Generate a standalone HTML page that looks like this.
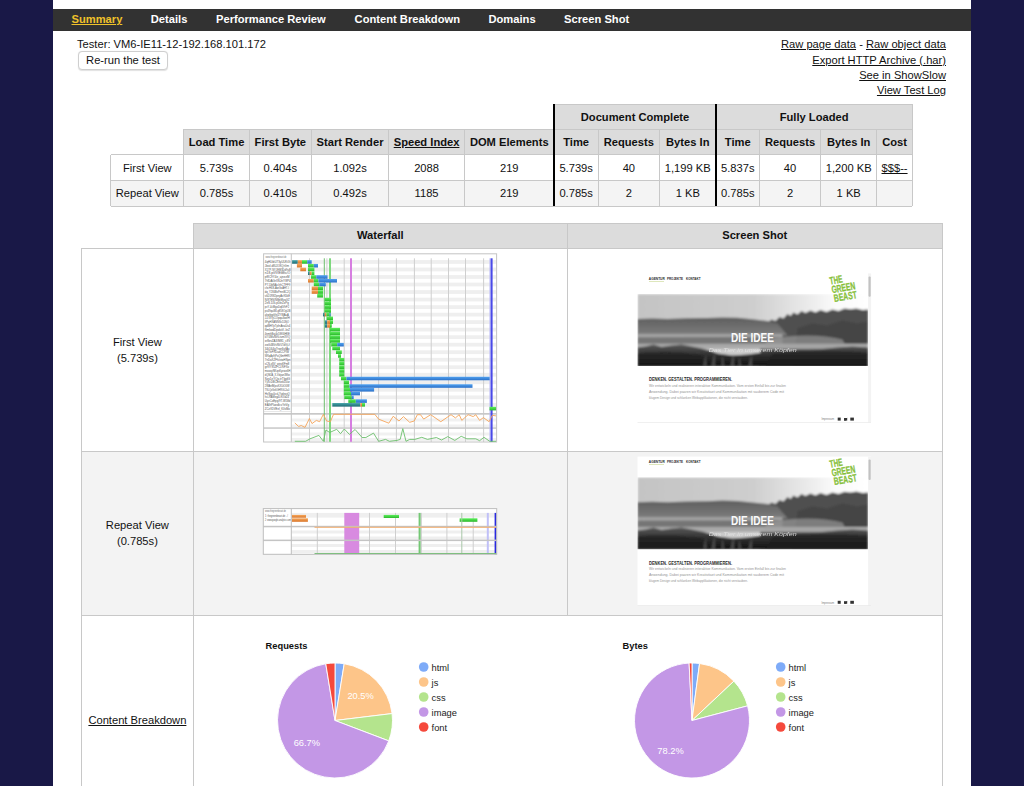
<!DOCTYPE html>
<html><head><meta charset="utf-8"><style>
html,body{margin:0;padding:0;}
body{width:1024px;height:786px;overflow:hidden;background:#191847;position:relative;font-family:"Liberation Sans",sans-serif;}
.t{position:absolute;white-space:nowrap;font-family:"Liberation Sans",sans-serif;}
</style></head><body>

<div style="position:absolute;left:53.00px;top:0.00px;width:918.00px;height:786.00px;background:#ffffff;"></div>
<div style="position:absolute;left:53.00px;top:8.70px;width:918.00px;height:21.90px;background:#323232;"></div>
<div class="t" style="left:71.50px;top:11.33px;width:300px;line-height:16px;font-size:11.16px;text-align:left;color:#f0c22a;font-weight:bold;text-decoration:underline;">Summary</div>
<div class="t" style="left:150.80px;top:11.33px;width:300px;line-height:16px;font-size:11.16px;text-align:left;color:#ffffff;font-weight:bold;">Details</div>
<div class="t" style="left:216.00px;top:11.33px;width:300px;line-height:16px;font-size:11.16px;text-align:left;color:#ffffff;font-weight:bold;">Performance Review</div>
<div class="t" style="left:354.60px;top:11.33px;width:300px;line-height:16px;font-size:11.16px;text-align:left;color:#ffffff;font-weight:bold;">Content Breakdown</div>
<div class="t" style="left:488.50px;top:11.33px;width:300px;line-height:16px;font-size:11.16px;text-align:left;color:#ffffff;font-weight:bold;">Domains</div>
<div class="t" style="left:564.10px;top:11.33px;width:300px;line-height:16px;font-size:11.16px;text-align:left;color:#ffffff;font-weight:bold;">Screen Shot</div>
<div class="t" style="left:77.00px;top:35.88px;width:300px;line-height:16px;font-size:11.16px;text-align:left;color:#111;">Tester: VM6-IE11-12-192.168.101.172</div>
<div style="position:absolute;left:78.4px;top:51.4px;width:89.8px;height:18.2px;box-sizing:border-box;border:1px solid #cfcfcf;border-radius:4px;background:#fff;box-shadow:0 0.5px 1px rgba(0,0,0,0.12);"></div>
<div class="t" style="left:63.00px;top:51.63px;width:120px;line-height:16px;font-size:11.16px;text-align:center;color:#111;">Re-run the test</div>
<div class="t" style="left:646.00px;top:36.03px;width:300px;line-height:16px;font-size:11.16px;text-align:right;color:#111;"><u>Raw page data</u> - <u>Raw object data</u></div>
<div class="t" style="left:646.00px;top:51.83px;width:300px;line-height:16px;font-size:11.16px;text-align:right;color:#111;text-decoration:underline;">Export HTTP Archive (.har)</div>
<div class="t" style="left:646.00px;top:66.63px;width:300px;line-height:16px;font-size:11.16px;text-align:right;color:#111;text-decoration:underline;">See in ShowSlow</div>
<div class="t" style="left:646.00px;top:81.88px;width:300px;line-height:16px;font-size:11.16px;text-align:right;color:#111;text-decoration:underline;">View Test Log</div>
<div style="position:absolute;left:554.10px;top:104.20px;width:358.20px;height:25.20px;background:#dcdcdc;"></div>
<div style="position:absolute;left:183.70px;top:129.40px;width:728.60px;height:25.20px;background:#dcdcdc;"></div>
<div style="position:absolute;left:110.90px;top:180.50px;width:801.40px;height:25.50px;background:#f4f4f4;"></div>
<div style="position:absolute;left:554.10px;top:103.70px;width:358.20px;height:1.00px;background:#c8c8c8;"></div>
<div style="position:absolute;left:183.70px;top:128.90px;width:728.60px;height:1.00px;background:#c8c8c8;"></div>
<div style="position:absolute;left:110.90px;top:154.10px;width:801.40px;height:1.00px;background:#c8c8c8;"></div>
<div style="position:absolute;left:110.90px;top:180.00px;width:801.40px;height:1.00px;background:#c8c8c8;"></div>
<div style="position:absolute;left:110.90px;top:205.50px;width:801.40px;height:1.00px;background:#c8c8c8;"></div>
<div style="position:absolute;left:110.40px;top:154.60px;width:1.00px;height:51.40px;background:#c8c8c8;"></div>
<div style="position:absolute;left:183.20px;top:129.40px;width:1.00px;height:76.60px;background:#c8c8c8;"></div>
<div style="position:absolute;left:248.90px;top:129.40px;width:1.00px;height:76.60px;background:#c8c8c8;"></div>
<div style="position:absolute;left:310.80px;top:129.40px;width:1.00px;height:76.60px;background:#c8c8c8;"></div>
<div style="position:absolute;left:388.25px;top:129.40px;width:1.00px;height:76.60px;background:#c8c8c8;"></div>
<div style="position:absolute;left:463.90px;top:129.40px;width:1.00px;height:76.60px;background:#c8c8c8;"></div>
<div style="position:absolute;left:597.70px;top:129.40px;width:1.00px;height:76.60px;background:#c8c8c8;"></div>
<div style="position:absolute;left:659.00px;top:129.40px;width:1.00px;height:76.60px;background:#c8c8c8;"></div>
<div style="position:absolute;left:759.00px;top:129.40px;width:1.00px;height:76.60px;background:#c8c8c8;"></div>
<div style="position:absolute;left:820.10px;top:129.40px;width:1.00px;height:76.60px;background:#c8c8c8;"></div>
<div style="position:absolute;left:876.30px;top:129.40px;width:1.00px;height:76.60px;background:#c8c8c8;"></div>
<div style="position:absolute;left:911.80px;top:104.20px;width:1.00px;height:101.80px;background:#c8c8c8;"></div>
<div style="position:absolute;left:553.00px;top:104.00px;width:2.20px;height:102.00px;background:#000;"></div>
<div style="position:absolute;left:714.90px;top:104.00px;width:2.20px;height:102.00px;background:#000;"></div>
<div class="t" style="left:555.05px;top:109.18px;width:160px;line-height:16px;font-size:11.16px;text-align:center;color:#111;font-weight:bold;">Document Complete</div>
<div class="t" style="left:734.15px;top:109.18px;width:160px;line-height:16px;font-size:11.16px;text-align:center;color:#111;font-weight:bold;">Fully Loaded</div>
<div class="t" style="left:156.55px;top:133.93px;width:120px;line-height:16px;font-size:11.16px;text-align:center;color:#111;font-weight:bold;">Load Time</div>
<div class="t" style="left:156.55px;top:160.23px;width:120px;line-height:16px;font-size:11.16px;text-align:center;color:#111;">5.739s</div>
<div class="t" style="left:156.55px;top:185.43px;width:120px;line-height:16px;font-size:11.16px;text-align:center;color:#111;">0.785s</div>
<div class="t" style="left:220.35px;top:133.93px;width:120px;line-height:16px;font-size:11.16px;text-align:center;color:#111;font-weight:bold;">First Byte</div>
<div class="t" style="left:220.35px;top:160.23px;width:120px;line-height:16px;font-size:11.16px;text-align:center;color:#111;">0.404s</div>
<div class="t" style="left:220.35px;top:185.43px;width:120px;line-height:16px;font-size:11.16px;text-align:center;color:#111;">0.410s</div>
<div class="t" style="left:290.02px;top:133.93px;width:120px;line-height:16px;font-size:11.16px;text-align:center;color:#111;font-weight:bold;">Start Render</div>
<div class="t" style="left:290.02px;top:160.23px;width:120px;line-height:16px;font-size:11.16px;text-align:center;color:#111;">1.092s</div>
<div class="t" style="left:290.02px;top:185.43px;width:120px;line-height:16px;font-size:11.16px;text-align:center;color:#111;">0.492s</div>
<div class="t" style="left:366.57px;top:133.93px;width:120px;line-height:16px;font-size:11.16px;text-align:center;color:#111;font-weight:bold;"><u>Speed Index</u></div>
<div class="t" style="left:366.57px;top:160.23px;width:120px;line-height:16px;font-size:11.16px;text-align:center;color:#111;">2088</div>
<div class="t" style="left:366.57px;top:185.43px;width:120px;line-height:16px;font-size:11.16px;text-align:center;color:#111;">1185</div>
<div class="t" style="left:449.25px;top:133.93px;width:120px;line-height:16px;font-size:11.16px;text-align:center;color:#111;font-weight:bold;">DOM Elements</div>
<div class="t" style="left:449.25px;top:160.23px;width:120px;line-height:16px;font-size:11.16px;text-align:center;color:#111;">219</div>
<div class="t" style="left:449.25px;top:185.43px;width:120px;line-height:16px;font-size:11.16px;text-align:center;color:#111;">219</div>
<div class="t" style="left:516.15px;top:133.93px;width:120px;line-height:16px;font-size:11.16px;text-align:center;color:#111;font-weight:bold;">Time</div>
<div class="t" style="left:516.15px;top:160.23px;width:120px;line-height:16px;font-size:11.16px;text-align:center;color:#111;">5.739s</div>
<div class="t" style="left:516.15px;top:185.43px;width:120px;line-height:16px;font-size:11.16px;text-align:center;color:#111;">0.785s</div>
<div class="t" style="left:568.85px;top:133.93px;width:120px;line-height:16px;font-size:11.16px;text-align:center;color:#111;font-weight:bold;">Requests</div>
<div class="t" style="left:568.85px;top:160.23px;width:120px;line-height:16px;font-size:11.16px;text-align:center;color:#111;">40</div>
<div class="t" style="left:568.85px;top:185.43px;width:120px;line-height:16px;font-size:11.16px;text-align:center;color:#111;">2</div>
<div class="t" style="left:627.75px;top:133.93px;width:120px;line-height:16px;font-size:11.16px;text-align:center;color:#111;font-weight:bold;">Bytes In</div>
<div class="t" style="left:627.75px;top:160.23px;width:120px;line-height:16px;font-size:11.16px;text-align:center;color:#111;">1,199 KB</div>
<div class="t" style="left:627.75px;top:185.43px;width:120px;line-height:16px;font-size:11.16px;text-align:center;color:#111;">1 KB</div>
<div class="t" style="left:677.75px;top:133.93px;width:120px;line-height:16px;font-size:11.16px;text-align:center;color:#111;font-weight:bold;">Time</div>
<div class="t" style="left:677.75px;top:160.23px;width:120px;line-height:16px;font-size:11.16px;text-align:center;color:#111;">5.837s</div>
<div class="t" style="left:677.75px;top:185.43px;width:120px;line-height:16px;font-size:11.16px;text-align:center;color:#111;">0.785s</div>
<div class="t" style="left:730.05px;top:133.93px;width:120px;line-height:16px;font-size:11.16px;text-align:center;color:#111;font-weight:bold;">Requests</div>
<div class="t" style="left:730.05px;top:160.23px;width:120px;line-height:16px;font-size:11.16px;text-align:center;color:#111;">40</div>
<div class="t" style="left:730.05px;top:185.43px;width:120px;line-height:16px;font-size:11.16px;text-align:center;color:#111;">2</div>
<div class="t" style="left:788.70px;top:133.93px;width:120px;line-height:16px;font-size:11.16px;text-align:center;color:#111;font-weight:bold;">Bytes In</div>
<div class="t" style="left:788.70px;top:160.23px;width:120px;line-height:16px;font-size:11.16px;text-align:center;color:#111;">1,200 KB</div>
<div class="t" style="left:788.70px;top:185.43px;width:120px;line-height:16px;font-size:11.16px;text-align:center;color:#111;">1 KB</div>
<div class="t" style="left:834.55px;top:133.93px;width:120px;line-height:16px;font-size:11.16px;text-align:center;color:#111;font-weight:bold;">Cost</div>
<div class="t" style="left:834.55px;top:160.23px;width:120px;line-height:16px;font-size:11.16px;text-align:center;color:#111;"><u>$$$--</u></div>
<div class="t" style="left:87.30px;top:160.23px;width:120px;line-height:16px;font-size:11.16px;text-align:center;color:#111;">First View</div>
<div class="t" style="left:87.30px;top:185.43px;width:120px;line-height:16px;font-size:11.16px;text-align:center;color:#111;">Repeat View</div>
<div style="position:absolute;left:193.40px;top:223.20px;width:748.80px;height:25.10px;background:#dcdcdc;"></div>
<div style="position:absolute;left:81.40px;top:451.50px;width:860.80px;height:163.90px;background:#f3f3f3;"></div>
<div style="position:absolute;left:193.40px;top:222.70px;width:748.80px;height:1.00px;background:#c8c8c8;"></div>
<div style="position:absolute;left:81.40px;top:247.80px;width:860.80px;height:1.00px;background:#c8c8c8;"></div>
<div style="position:absolute;left:81.40px;top:451.00px;width:860.80px;height:1.00px;background:#c8c8c8;"></div>
<div style="position:absolute;left:81.40px;top:614.90px;width:860.80px;height:1.00px;background:#c8c8c8;"></div>
<div style="position:absolute;left:80.90px;top:248.30px;width:1.00px;height:537.70px;background:#c8c8c8;"></div>
<div style="position:absolute;left:192.90px;top:223.20px;width:1.00px;height:562.80px;background:#c8c8c8;"></div>
<div style="position:absolute;left:566.80px;top:223.20px;width:1.00px;height:392.20px;background:#c8c8c8;"></div>
<div style="position:absolute;left:941.70px;top:223.20px;width:1.00px;height:562.80px;background:#c8c8c8;"></div>
<div class="t" style="left:300.35px;top:227.23px;width:160px;line-height:16px;font-size:11.16px;text-align:center;color:#111;font-weight:bold;">Waterfall</div>
<div class="t" style="left:674.75px;top:227.23px;width:160px;line-height:16px;font-size:11.16px;text-align:center;color:#111;font-weight:bold;">Screen Shot</div>
<div class="t" style="left:82.40px;top:333.73px;width:110px;line-height:16px;font-size:11.16px;text-align:center;color:#111;">First View</div>
<div class="t" style="left:82.40px;top:349.83px;width:110px;line-height:16px;font-size:11.16px;text-align:center;color:#111;">(5.739s)</div>
<div class="t" style="left:82.40px;top:517.33px;width:110px;line-height:16px;font-size:11.16px;text-align:center;color:#111;">Repeat View</div>
<div class="t" style="left:82.40px;top:533.33px;width:110px;line-height:16px;font-size:11.16px;text-align:center;color:#111;">(0.785s)</div>
<div class="t" style="left:82.40px;top:711.53px;width:110px;line-height:16px;font-size:11.16px;text-align:center;color:#111;text-decoration:underline;">Content Breakdown</div>
<svg style="position:absolute;left:0;top:0" width="1024" height="786" viewBox="0 0 1024 786"><rect x="263.6" y="253.8" width="233.0" height="188.2" fill="#fff"/><rect x="291.3" y="260.07" width="205.30" height="3.76" fill="#efefef"/><rect x="291.3" y="267.59" width="205.30" height="3.76" fill="#efefef"/><rect x="291.3" y="275.11" width="205.30" height="3.76" fill="#efefef"/><rect x="291.3" y="282.63" width="205.30" height="3.76" fill="#efefef"/><rect x="291.3" y="290.15" width="205.30" height="3.76" fill="#efefef"/><rect x="291.3" y="297.67" width="205.30" height="3.76" fill="#efefef"/><rect x="291.3" y="305.19" width="205.30" height="3.76" fill="#efefef"/><rect x="291.3" y="312.71" width="205.30" height="3.76" fill="#efefef"/><rect x="291.3" y="320.23" width="205.30" height="3.76" fill="#efefef"/><rect x="291.3" y="327.75" width="205.30" height="3.76" fill="#efefef"/><rect x="291.3" y="335.27" width="205.30" height="3.76" fill="#efefef"/><rect x="291.3" y="342.79" width="205.30" height="3.76" fill="#efefef"/><rect x="291.3" y="350.31" width="205.30" height="3.76" fill="#efefef"/><rect x="291.3" y="357.83" width="205.30" height="3.76" fill="#efefef"/><rect x="291.3" y="365.35" width="205.30" height="3.76" fill="#efefef"/><rect x="291.3" y="372.87" width="205.30" height="3.76" fill="#efefef"/><rect x="291.3" y="380.39" width="205.30" height="3.76" fill="#efefef"/><rect x="291.3" y="387.91" width="205.30" height="3.76" fill="#efefef"/><rect x="291.3" y="395.43" width="205.30" height="3.76" fill="#efefef"/><rect x="291.3" y="402.95" width="205.30" height="3.76" fill="#efefef"/><rect x="291.3" y="418.5" width="205.30" height="3.0" fill="#f1f1f1"/><rect x="291.3" y="424.5" width="205.30" height="2.5" fill="#f1f1f1"/><rect x="291.3" y="432.5" width="205.30" height="3.0" fill="#f1f1f1"/><rect x="291.3" y="438.0" width="205.30" height="3.0" fill="#f1f1f1"/><text x="265.5" y="258.3" font-family="Liberation Sans" font-size="3.4" fill="#707070" textLength="21" lengthAdjust="spacingAndGlyphs">www.thegreenbeast.de</text><g font-family="Liberation Sans" font-size="3.6" fill="#505050"><text x="264.8" y="263.07" textLength="25.7" lengthAdjust="spacingAndGlyphs">4qHUibU73yUUKt3t</text><text x="264.8" y="266.83" textLength="24.1" lengthAdjust="spacingAndGlyphs">Jbiuf-d8UJOKQrGm</text><text x="264.8" y="270.59" textLength="25.9" lengthAdjust="spacingAndGlyphs">X17P-NYJEM3Dd9uB</text><text x="264.8" y="274.35" textLength="25.5" lengthAdjust="spacingAndGlyphs">n18.piVVlEiMtc/O</text><text x="264.8" y="278.11" textLength="24.6" lengthAdjust="spacingAndGlyphs">pffIC9Y4e_ajnezM</text><text x="264.8" y="281.87" textLength="25.9" lengthAdjust="spacingAndGlyphs">7tfDAGrIISJnY8P4</text><text x="264.8" y="285.63" textLength="25.5" lengthAdjust="spacingAndGlyphs">P7-DbNAcIrhCTFF9</text><text x="264.8" y="289.39" textLength="24.2" lengthAdjust="spacingAndGlyphs">chcH6S-AwGxAH7-I</text><text x="264.8" y="293.15" textLength="25.6" lengthAdjust="spacingAndGlyphs">dq_Y284BxPmnBC2Q</text><text x="264.8" y="296.91" textLength="25.2" lengthAdjust="spacingAndGlyphs">vkD1R82peyAx9DkE</text><text x="264.8" y="300.67" textLength="24.9" lengthAdjust="spacingAndGlyphs">N/8TEN/NMeMtzaVZ</text><text x="264.8" y="304.43" textLength="24.0" lengthAdjust="spacingAndGlyphs">2eS.D3i.p5feZzPg</text><text x="264.8" y="308.19" textLength="24.4" lengthAdjust="spacingAndGlyphs">pvY-4cMgoDq6VhF2</text><text x="264.8" y="311.95" textLength="25.6" lengthAdjust="spacingAndGlyphs">pv49qaWLg858OgUB</text><text x="264.8" y="315.71" textLength="24.1" lengthAdjust="spacingAndGlyphs">ahqfpgiVelZYWAuA</text><text x="264.8" y="319.47" textLength="24.9" lengthAdjust="spacingAndGlyphs">JJ-G7yCOpqaIkwfH</text><text x="264.8" y="323.23" textLength="24.4" lengthAdjust="spacingAndGlyphs">IfPgHXANNSc518jO</text><text x="264.8" y="326.99" textLength="25.5" lengthAdjust="spacingAndGlyphs">qdBH7pTpInAnaUs4</text><text x="264.8" y="330.75" textLength="25.1" lengthAdjust="spacingAndGlyphs">flmIwdDpdoV.-leZ</text><text x="264.8" y="334.51" textLength="25.1" lengthAdjust="spacingAndGlyphs">4nmhBxj4x5SK6HKE</text><text x="264.8" y="338.27" textLength="25.2" lengthAdjust="spacingAndGlyphs">kIY4MuNVtLtumXVQ</text><text x="264.8" y="342.03" textLength="25.6" lengthAdjust="spacingAndGlyphs">xr8zsZA3/M81_c8V</text><text x="264.8" y="345.79" textLength="24.9" lengthAdjust="spacingAndGlyphs">zwG4BVsNV0TdVjLf</text><text x="264.8" y="349.55" textLength="24.8" lengthAdjust="spacingAndGlyphs">34i164y7rxe6vfAx</text><text x="264.8" y="353.31" textLength="24.2" lengthAdjust="spacingAndGlyphs">kpl7/eFRDadCCPIW</text><text x="264.8" y="357.07" textLength="25.3" lengthAdjust="spacingAndGlyphs">WKqAp9jPoQ6mHHR/</text><text x="264.8" y="360.83" textLength="25.9" lengthAdjust="spacingAndGlyphs">7nDoXZFh/xtwHSpn</text><text x="264.8" y="364.59" textLength="24.5" lengthAdjust="spacingAndGlyphs">sCN-xSV_winxKFm8</text><text x="264.8" y="368.35" textLength="24.3" lengthAdjust="spacingAndGlyphs">grfVY85ZFCLRiFXo</text><text x="264.8" y="372.11" textLength="25.6" lengthAdjust="spacingAndGlyphs">mooxyNKqsKyvwz6H</text><text x="264.8" y="375.87" textLength="25.0" lengthAdjust="spacingAndGlyphs">dQMJA_X-Vdyan3Ww</text><text x="264.8" y="379.63" textLength="25.2" lengthAdjust="spacingAndGlyphs">Szy1eYQo.trTlgdG</text><text x="264.8" y="383.39" textLength="24.9" lengthAdjust="spacingAndGlyphs">YjXcDBCErkekD0iz</text><text x="264.8" y="387.15" textLength="24.6" lengthAdjust="spacingAndGlyphs">2WAnfMjzuKXUiO0W</text><text x="264.8" y="390.91" textLength="24.5" lengthAdjust="spacingAndGlyphs">TSLQxSe6GHRGL2a0</text><text x="264.8" y="394.67" textLength="25.0" lengthAdjust="spacingAndGlyphs">HsSyu0cvLYvdrovQ</text><text x="264.8" y="398.43" textLength="24.2" lengthAdjust="spacingAndGlyphs">hcLRAMeg4LfKXd24</text><text x="264.8" y="402.19" textLength="25.6" lengthAdjust="spacingAndGlyphs">UyvCoEpg/9T-W58d</text><text x="264.8" y="405.95" textLength="24.4" lengthAdjust="spacingAndGlyphs">EAlhPlandlcvYeVg</text><text x="264.8" y="409.71" textLength="25.0" lengthAdjust="spacingAndGlyphs">ZCzVDVEeI_Kl/xMo</text></g><rect x="309.0" y="258.3" width="1" height="183.7" fill="#cfcfcf"/><rect x="326.4" y="258.3" width="1" height="183.7" fill="#cfcfcf"/><rect x="343.7" y="258.3" width="1" height="183.7" fill="#cfcfcf"/><rect x="361.0" y="258.3" width="1" height="183.7" fill="#cfcfcf"/><rect x="378.1" y="258.3" width="1" height="183.7" fill="#cfcfcf"/><rect x="395.9" y="258.3" width="1" height="183.7" fill="#cfcfcf"/><rect x="413.9" y="258.3" width="1" height="183.7" fill="#cfcfcf"/><rect x="430.7" y="258.3" width="1" height="183.7" fill="#cfcfcf"/><rect x="448.0" y="258.3" width="1" height="183.7" fill="#cfcfcf"/><rect x="465.0" y="258.3" width="1" height="183.7" fill="#cfcfcf"/><rect x="483.1" y="258.3" width="1" height="183.7" fill="#cfcfcf"/><rect x="263.6" y="413.0" width="233.0" height="1.7" fill="#c8c8c8"/><rect x="263.6" y="427.3" width="233.0" height="1.5" fill="#c8c8c8"/><rect x="263.6" y="411.2" width="27.7" height="0.6" fill="#d8d8d8"/><rect x="263.6" y="253.8" width="233.0" height="188.2" fill="none" stroke="#c4c4c4" stroke-width="1"/><rect x="290.8" y="253.8" width="1" height="188.2" fill="#c4c4c4"/><defs><linearGradient id="gT" x1="0" y1="0" x2="0" y2="1"><stop offset="0" stop-color="#45a3a8"/><stop offset="1" stop-color="#1f6d75"/></linearGradient><linearGradient id="gO" x1="0" y1="0" x2="0" y2="1"><stop offset="0" stop-color="#f7a85c"/><stop offset="1" stop-color="#d9762a"/></linearGradient><linearGradient id="gG" x1="0" y1="0" x2="0" y2="1"><stop offset="0" stop-color="#5cf05c"/><stop offset="1" stop-color="#2cb82c"/></linearGradient><linearGradient id="gB" x1="0" y1="0" x2="0" y2="1"><stop offset="0" stop-color="#52a2f0"/><stop offset="1" stop-color="#2a70c8"/></linearGradient></defs><rect x="323.8" y="258.3" width="1" height="183.5" fill="#6fbf6f"/><rect x="329.0" y="258.3" width="2" height="183.5" fill="#7ed87e"/><rect x="350.0" y="258.3" width="2" height="183.5" fill="#d67ee0"/><rect x="489.5" y="258.3" width="1" height="183.5" fill="#b8b8f8"/><rect x="490.6" y="258.3" width="2" height="183.5" fill="#4a4ae8"/><rect x="292.1" y="260.17" width="5.70" height="3.56" fill="url(#gT)"/><rect x="297.8" y="260.17" width="4.20" height="3.56" fill="url(#gO)"/><rect x="302" y="260.17" width="5.20" height="3.56" fill="url(#gG)"/><rect x="307.2" y="260.17" width="4.50" height="3.56" fill="url(#gB)"/><rect x="296.9" y="263.93" width="5.10" height="3.56" fill="url(#gO)"/><rect x="308" y="263.93" width="5.80" height="3.56" fill="url(#gG)"/><rect x="313.8" y="263.93" width="4.20" height="3.56" fill="url(#gB)"/><rect x="300.3" y="267.69" width="5.70" height="3.56" fill="url(#gO)"/><rect x="308" y="267.69" width="6.40" height="3.56" fill="url(#gG)"/><rect x="308" y="271.45" width="1.70" height="3.56" fill="url(#gT)"/><rect x="309.7" y="271.45" width="2.00" height="3.56" fill="url(#gO)"/><rect x="311.7" y="271.45" width="2.70" height="3.56" fill="url(#gG)"/><rect x="311" y="275.21" width="5.30" height="3.56" fill="url(#gG)"/><rect x="316.3" y="275.21" width="11.20" height="3.56" fill="url(#gB)"/><rect x="308" y="278.97" width="5.80" height="3.56" fill="url(#gO)"/><rect x="313.8" y="278.97" width="4.50" height="3.56" fill="url(#gG)"/><rect x="318.3" y="278.97" width="18.70" height="3.56" fill="url(#gB)"/><rect x="313.8" y="282.73" width="5.40" height="3.56" fill="url(#gG)"/><rect x="319.2" y="282.73" width="6.60" height="3.56" fill="url(#gB)"/><rect x="311.7" y="286.49" width="6.30" height="3.56" fill="url(#gO)"/><rect x="318" y="286.49" width="5.00" height="3.56" fill="url(#gG)"/><rect x="311.7" y="290.25" width="6.30" height="3.56" fill="url(#gO)"/><rect x="318" y="290.25" width="5.00" height="3.56" fill="url(#gG)"/><rect x="317.2" y="294.01" width="5.80" height="3.56" fill="url(#gG)"/><rect x="324.7" y="297.77" width="6.30" height="3.56" fill="url(#gG)"/><rect x="324.7" y="301.53" width="6.30" height="3.56" fill="url(#gG)"/><rect x="324.7" y="305.29" width="6.30" height="3.56" fill="url(#gG)"/><rect x="324.7" y="309.05" width="6.30" height="3.56" fill="url(#gG)"/><rect x="323" y="312.81" width="1.70" height="3.56" fill="url(#gT)"/><rect x="324.7" y="312.81" width="1.70" height="3.56" fill="url(#gO)"/><rect x="326.4" y="312.81" width="3.10" height="3.56" fill="url(#gG)"/><rect x="329.5" y="312.81" width="1.10" height="3.56" fill="url(#gB)"/><rect x="326.6" y="316.57" width="6.40" height="3.56" fill="url(#gG)"/><rect x="324.9" y="320.33" width="2.30" height="3.56" fill="url(#gT)"/><rect x="327.2" y="320.33" width="2.80" height="3.56" fill="url(#gO)"/><rect x="330" y="320.33" width="3.00" height="3.56" fill="url(#gG)"/><rect x="324.9" y="324.09" width="2.30" height="3.56" fill="url(#gT)"/><rect x="327.2" y="324.09" width="2.80" height="3.56" fill="url(#gO)"/><rect x="330" y="324.09" width="1.80" height="3.56" fill="url(#gG)"/><rect x="330" y="327.85" width="10.00" height="3.56" fill="url(#gG)"/><rect x="330" y="331.61" width="10.00" height="3.56" fill="url(#gG)"/><rect x="330" y="335.37" width="10.00" height="3.56" fill="url(#gG)"/><rect x="330" y="339.13" width="10.00" height="3.56" fill="url(#gG)"/><rect x="331.2" y="342.89" width="6.00" height="3.56" fill="url(#gG)"/><rect x="337.2" y="342.89" width="6.60" height="3.56" fill="url(#gB)"/><rect x="332.3" y="346.65" width="7.70" height="3.56" fill="url(#gG)"/><rect x="336" y="350.41" width="5.80" height="3.56" fill="url(#gG)"/><rect x="338" y="354.17" width="3.00" height="3.56" fill="url(#gG)"/><rect x="339.2" y="357.93" width="5.10" height="3.56" fill="url(#gG)"/><rect x="339.2" y="361.69" width="5.10" height="3.56" fill="url(#gG)"/><rect x="339.2" y="365.45" width="5.10" height="3.56" fill="url(#gG)"/><rect x="339.2" y="369.21" width="5.10" height="3.56" fill="url(#gG)"/><rect x="339.2" y="372.97" width="5.10" height="3.56" fill="url(#gG)"/><rect x="341" y="376.73" width="5.40" height="3.56" fill="url(#gG)"/><rect x="346.4" y="376.73" width="143.30" height="3.56" fill="url(#gB)"/><rect x="343.8" y="380.49" width="5.20" height="3.56" fill="url(#gG)"/><rect x="343.8" y="384.25" width="5.70" height="3.56" fill="url(#gG)"/><rect x="349.5" y="384.25" width="123.00" height="3.56" fill="url(#gB)"/><rect x="343.8" y="388.01" width="6.20" height="3.56" fill="url(#gG)"/><rect x="350" y="388.01" width="24.10" height="3.56" fill="url(#gB)"/><rect x="343.8" y="391.77" width="7.20" height="3.56" fill="url(#gG)"/><rect x="351" y="391.77" width="9.00" height="3.56" fill="url(#gB)"/><rect x="344.3" y="395.53" width="7.50" height="3.56" fill="url(#gG)"/><rect x="351.8" y="395.53" width="1.90" height="3.56" fill="url(#gB)"/><rect x="348.3" y="399.29" width="7.50" height="3.56" fill="url(#gG)"/><rect x="355.8" y="399.29" width="11.10" height="3.56" fill="url(#gB)"/><rect x="332.3" y="403.05" width="28.10" height="3.56" fill="url(#gT)"/><rect x="360.4" y="403.05" width="1.60" height="3.56" fill="url(#gO)"/><rect x="362" y="403.05" width="3.00" height="3.56" fill="url(#gG)"/><rect x="489.5" y="406.81" width="6.50" height="3.56" fill="url(#gG)"/><polyline fill="none" stroke="#f5a55a" stroke-width="0.9" points="294.8,422.9 298.6,426.5 301.2,425.5 305,427.4 309.4,418.5 312,423.6 316.4,420.4 319.6,421.7 323.4,414.3 326.6,421 330.4,421.7 333.5,414.3 374.8,414.3 378.6,419.1 388.8,423.2 393.2,416.3 399,421 403.4,416.6 409.7,422.3 414.2,421 417.4,414.7 420.5,414.7 423.7,419.1 430.7,414.7 440.8,421.7 451,414.7 455.4,417.9 459.2,414.7 461.8,420.4 468.1,414.7 473.2,416.6 475.8,414.7 479.6,420.4 483.4,417.6 489.1,421.7 492.3,415.3 496,415.9"/><polyline fill="none" stroke="#6cc06c" stroke-width="0.9" points="294.8,441.3 305.6,441.3 310,438.8 318.9,435.4 323.4,441.3 325.9,430 329.7,432.5 336.7,429.3 340.5,433.7 344.3,429 349.4,434.4 355.1,429.5 362.1,437.5 365.9,437.5 373.5,433.1 378.6,441.3 385.6,439.4 389.4,441.3 397,440.4 400.2,439.4 402.8,428.6 406,441.3 409.7,439.4 414.8,439.4 421.8,437.3 427.5,439.4 436.4,437.5 441.5,440 447.8,436.6 454.8,440.4 461.2,436.3 466.9,438.8 475.8,438.8 479.6,440.7 484,437.3 489.7,441.3 496,441.3"/><rect x="263.3" y="508.6" width="233.4" height="45.7" fill="#fff"/><rect x="291.3" y="512.9" width="205.4" height="4.7" fill="#efefef"/><rect x="291.3" y="530.5" width="205.4" height="3.0" fill="#efefef"/><rect x="291.3" y="536.5" width="205.4" height="3.0" fill="#efefef"/><rect x="291.3" y="544" width="205.4" height="3.0" fill="#efefef"/><rect x="291.3" y="550" width="205.4" height="3.0" fill="#efefef"/><g font-family="Liberation Sans" font-size="3.6" fill="#505050"><text x="265" y="512.2" fill="#707070" textLength="21" lengthAdjust="spacingAndGlyphs">www.thegreenbeast.de</text><text x="265" y="517.3" textLength="23" lengthAdjust="spacingAndGlyphs">1: thegreenbeast.de - /</text><text x="265" y="520.9" textLength="26" lengthAdjust="spacingAndGlyphs">2: www.google-analytics.com</text></g><rect x="420.7" y="512.9" width="1" height="41.4" fill="#d8d8d8"/><rect x="316.8" y="512.9" width="1" height="41.4" fill="#cfcfcf"/><rect x="369.0" y="512.9" width="1" height="41.4" fill="#cfcfcf"/><rect x="395.0" y="512.9" width="1" height="41.4" fill="#cfcfcf"/><rect x="420.7" y="512.9" width="1" height="41.4" fill="#cfcfcf"/><rect x="446.4" y="512.9" width="1" height="41.4" fill="#cfcfcf"/><rect x="472.7" y="512.9" width="1" height="41.4" fill="#cfcfcf"/><rect x="344.3" y="512.9" width="14.9" height="40.8" fill="#d88ae0"/><rect x="292" y="514.9" width="14" height="2.8" fill="url(#gO)"/><rect x="292" y="518.3" width="15.9" height="3.5" fill="url(#gO)"/><rect x="383.7" y="514.9" width="15.3" height="3.1" fill="url(#gG)"/><rect x="459.6" y="518.3" width="17.8" height="3.5" fill="url(#gG)"/><rect x="418.6" y="512.9" width="2" height="41.4" fill="#74c874"/><rect x="461.3" y="512.9" width="1" height="41.4" fill="#a8c8a8"/><rect x="486.8" y="512.9" width="2" height="41.4" fill="#c0c0f8"/><rect x="494.6" y="512.9" width="1.8" height="41.4" fill="#2a2ae0"/><rect x="263.3" y="525.8" width="233.4" height="1.5" fill="#c4c4c4"/><rect x="263.3" y="539.6" width="233.4" height="1.5" fill="#c4c4c4"/><rect x="314.5" y="526.8" width="182.2" height="1.0" fill="#f5b070"/><rect x="314.5" y="553.0" width="182.2" height="1.0" fill="#70c070"/><rect x="263.3" y="508.6" width="233.4" height="45.7" fill="none" stroke="#bdbdbd" stroke-width="1"/><rect x="290.8" y="508.6" width="1" height="45.7" fill="#bdbdbd"/><defs><linearGradient id="sky" x1="0" y1="0" x2="1" y2="0"><stop offset="0" stop-color="#c4c4c4"/><stop offset="0.5" stop-color="#cecece"/><stop offset="0.75" stop-color="#ececec"/><stop offset="0.85" stop-color="#fafafa"/><stop offset="1" stop-color="#ffffff"/></linearGradient><linearGradient id="grass" x1="0" y1="0" x2="0" y2="1"><stop offset="0" stop-color="#5a5a5a"/><stop offset="0.5" stop-color="#2e2e2e"/><stop offset="1" stop-color="#111111"/></linearGradient><linearGradient id="tree" x1="0" y1="0" x2="0" y2="1"><stop offset="0" stop-color="#5e5e5e"/><stop offset="1" stop-color="#7e7e7e"/></linearGradient><linearGradient id="mist" x1="0" y1="0" x2="1" y2="0"><stop offset="0" stop-color="#9a9a9a" stop-opacity="0.0"/><stop offset="0.45" stop-color="#b8b8b8" stop-opacity="0.9"/><stop offset="1" stop-color="#a0a0a0" stop-opacity="0.2"/></linearGradient><filter id="bl" x="-5%" y="-5%" width="110%" height="110%"><feGaussianBlur stdDeviation="1.1"/></filter><filter id="bl2"><feGaussianBlur stdDeviation="0.35"/></filter><clipPath id="hc"><rect x="0" y="20.7" width="230.5" height="72"/></clipPath></defs><g transform="translate(637.5,273.4)"><rect x="0" y="0" width="233.5" height="149" fill="#fff"/><g font-family="Liberation Sans" font-weight="bold" font-size="4.2" fill="#2a2a2a"><text x="11.3" y="6.8" textLength="16" lengthAdjust="spacingAndGlyphs">AGENTUR</text><text x="29.5" y="6.8" textLength="16" lengthAdjust="spacingAndGlyphs">PROJEKTE</text><text x="48.5" y="6.8" textLength="14.5" lengthAdjust="spacingAndGlyphs">KONTAKT</text></g><rect x="11.5" y="7.6" width="15" height="0.6" fill="#c8d890"/><g clip-path="url(#hc)" filter="url(#bl)"><rect x="0" y="20.7" width="230.5" height="72" fill="url(#sky)"/><path d="M122,93 L124,50 L130,49 L134,46 L138,47.5 L142,43.5 L146,45 L150,40.5 L153,42.5 L156,39 L160,41 L164,37.5 L168,39.5 L173,37 L178,39 L183,36.5 L189,38.5 L195,36 L201,37.5 L207,35.2 L213,35.8 L219,35 L225,36.5 L230.5,36 L230.5,93 Z" fill="#505050"/><path d="M155,93 L160,55 L175,50 L190,52 L205,47 L220,50 L230.5,48 L230.5,93 Z" fill="#3e3e3e" opacity="0.6"/><path d="M0,45.6 L15,45.2 L30,45.6 L50,44.8 L70,44.6 L85,44.0 L100,44.4 L115,45.8 L130,47.5 L140,50 L150,62 L0,62 Z" fill="url(#tree)"/><rect x="0" y="60.5" width="145" height="3.5" fill="#a2a2a2"/><path d="M0,63.8 L145,63.5 L145,70.5 L0,70.8 Z" fill="#747474"/><rect x="0" y="70.3" width="230.5" height="5" fill="#a9a9a9"/><path d="M130,66 Q172,58 205,66 L210,76 L125,76 Z" fill="#a4a4a4" opacity="0.6"/><path d="M0,93 L0,74 L8,73 L16,71 L24,73.5 L34,72 L44,71 L54,73 L64,75 L72,77 L80,80 L95,82 L110,81 L125,79 L140,76 L160,77 L180,76 L200,74 L215,73 L230.5,74 L230.5,93 Z" fill="url(#grass)"/><path d="M0,93 L0,80 Q30,76 66,82 L72,93 Z" fill="#1c1c1c" opacity="0.55"/><path d="M128,93 L135,80 Q180,76 230.5,79 L230.5,93 Z" fill="#1c1c1c" opacity="0.6"/><path d="M66,92 L68,81 L69,92 Z M74,92 L77,79 L77.5,92 Z M84,92 L85,82 L86.5,92 Z M93,92 L96,80 L96.5,92 Z M101,92 L102,83 L103.5,92 Z M111,92 L114,81 L114.5,92 Z" fill="#8a8a8a" opacity="0.45"/></g><text x="93.5" y="68.2" font-family="Liberation Sans" font-weight="bold" font-size="12.8" textLength="43" lengthAdjust="spacingAndGlyphs" fill="#fafafa">DIE IDEE</text><text x="71.2" y="79" font-family="Liberation Sans" font-style="italic" font-size="6.0" textLength="88" lengthAdjust="spacingAndGlyphs" fill="#e4e4e4" opacity="0.85">Das Tier in unserem K&#246;pfen</text><g transform="translate(192.8,11.2) rotate(-10)" fill="#86c03a" font-family="Liberation Sans" font-weight="bold" stroke="#86c03a" stroke-width="0.3"><text x="0" y="0" font-size="10.5" textLength="13" lengthAdjust="spacingAndGlyphs">THE</text><text x="0.3" y="8.9" font-size="10.5" textLength="24" lengthAdjust="spacingAndGlyphs">GREEN</text><text x="1.2" y="17.8" font-size="10.5" textLength="23" lengthAdjust="spacingAndGlyphs">BEAST</text></g><rect x="230.6" y="0" width="3" height="149" fill="#f3f3f3"/><rect x="231" y="3" width="2.2" height="20.3" rx="1" fill="#c2c2c2"/><text x="11.5" y="108" font-family="Liberation Sans" font-weight="bold" font-size="4.8" textLength="83" lengthAdjust="spacingAndGlyphs" fill="#2a2a2a">DENKEN. GESTALTEN. PROGRAMMIEREN.</text><g style="font-family:'Liberation Sans',sans-serif" font-size="3.8" fill="#939393"><text x="11.5" y="113.8" textLength="137" lengthAdjust="spacingAndGlyphs">Wir entwickeln und realisieren interaktive Kommunikation. Vom ersten Einfall bis zur finalen</text><text x="11.5" y="119.5" textLength="135" lengthAdjust="spacingAndGlyphs">Anwendung. Dabei paaren wir Kreativitaet und Kommunikation mit sauberem Code mit</text><text x="11.5" y="125.5" textLength="99" lengthAdjust="spacingAndGlyphs">klugem Design und schlanken Webapplikationen, die nicht verstauben.</text></g><text x="184" y="147" font-family="Liberation Sans" font-size="3.2" textLength="12.5" lengthAdjust="spacingAndGlyphs" fill="#777">Impressum</text><rect x="200.2" y="144.2" width="3" height="3" fill="#333"/><path d="M206.5,147.3 L210,144.2 L208,147.3 Z" fill="#333"/><rect x="206.5" y="144.6" width="3.2" height="2.6" fill="#333"/><rect x="212.8" y="144.2" width="3.6" height="3" fill="#333"/><rect x="0" y="148.6" width="233.5" height="0.6" fill="#e6e6e6"/></g><g transform="translate(637.5,456.6)"><rect x="0" y="0" width="233.5" height="149" fill="#fff"/><g font-family="Liberation Sans" font-weight="bold" font-size="4.2" fill="#2a2a2a"><text x="11.3" y="6.8" textLength="16" lengthAdjust="spacingAndGlyphs">AGENTUR</text><text x="29.5" y="6.8" textLength="16" lengthAdjust="spacingAndGlyphs">PROJEKTE</text><text x="48.5" y="6.8" textLength="14.5" lengthAdjust="spacingAndGlyphs">KONTAKT</text></g><rect x="11.5" y="7.6" width="15" height="0.6" fill="#c8d890"/><g clip-path="url(#hc)" filter="url(#bl)"><rect x="0" y="20.7" width="230.5" height="72" fill="url(#sky)"/><path d="M122,93 L124,50 L130,49 L134,46 L138,47.5 L142,43.5 L146,45 L150,40.5 L153,42.5 L156,39 L160,41 L164,37.5 L168,39.5 L173,37 L178,39 L183,36.5 L189,38.5 L195,36 L201,37.5 L207,35.2 L213,35.8 L219,35 L225,36.5 L230.5,36 L230.5,93 Z" fill="#505050"/><path d="M155,93 L160,55 L175,50 L190,52 L205,47 L220,50 L230.5,48 L230.5,93 Z" fill="#3e3e3e" opacity="0.6"/><path d="M0,45.6 L15,45.2 L30,45.6 L50,44.8 L70,44.6 L85,44.0 L100,44.4 L115,45.8 L130,47.5 L140,50 L150,62 L0,62 Z" fill="url(#tree)"/><rect x="0" y="60.5" width="145" height="3.5" fill="#a2a2a2"/><path d="M0,63.8 L145,63.5 L145,70.5 L0,70.8 Z" fill="#747474"/><rect x="0" y="70.3" width="230.5" height="5" fill="#a9a9a9"/><path d="M130,66 Q172,58 205,66 L210,76 L125,76 Z" fill="#a4a4a4" opacity="0.6"/><path d="M0,93 L0,74 L8,73 L16,71 L24,73.5 L34,72 L44,71 L54,73 L64,75 L72,77 L80,80 L95,82 L110,81 L125,79 L140,76 L160,77 L180,76 L200,74 L215,73 L230.5,74 L230.5,93 Z" fill="url(#grass)"/><path d="M0,93 L0,80 Q30,76 66,82 L72,93 Z" fill="#1c1c1c" opacity="0.55"/><path d="M128,93 L135,80 Q180,76 230.5,79 L230.5,93 Z" fill="#1c1c1c" opacity="0.6"/><path d="M66,92 L68,81 L69,92 Z M74,92 L77,79 L77.5,92 Z M84,92 L85,82 L86.5,92 Z M93,92 L96,80 L96.5,92 Z M101,92 L102,83 L103.5,92 Z M111,92 L114,81 L114.5,92 Z" fill="#8a8a8a" opacity="0.45"/></g><text x="93.5" y="68.2" font-family="Liberation Sans" font-weight="bold" font-size="12.8" textLength="43" lengthAdjust="spacingAndGlyphs" fill="#fafafa">DIE IDEE</text><text x="71.2" y="79" font-family="Liberation Sans" font-style="italic" font-size="6.0" textLength="88" lengthAdjust="spacingAndGlyphs" fill="#e4e4e4" opacity="0.85">Das Tier in unserem K&#246;pfen</text><g transform="translate(192.8,11.2) rotate(-10)" fill="#86c03a" font-family="Liberation Sans" font-weight="bold" stroke="#86c03a" stroke-width="0.3"><text x="0" y="0" font-size="10.5" textLength="13" lengthAdjust="spacingAndGlyphs">THE</text><text x="0.3" y="8.9" font-size="10.5" textLength="24" lengthAdjust="spacingAndGlyphs">GREEN</text><text x="1.2" y="17.8" font-size="10.5" textLength="23" lengthAdjust="spacingAndGlyphs">BEAST</text></g><rect x="230.6" y="0" width="3" height="149" fill="#f3f3f3"/><rect x="231" y="3" width="2.2" height="20.3" rx="1" fill="#c2c2c2"/><text x="11.5" y="108" font-family="Liberation Sans" font-weight="bold" font-size="4.8" textLength="83" lengthAdjust="spacingAndGlyphs" fill="#2a2a2a">DENKEN. GESTALTEN. PROGRAMMIEREN.</text><g style="font-family:'Liberation Sans',sans-serif" font-size="3.8" fill="#939393"><text x="11.5" y="113.8" textLength="137" lengthAdjust="spacingAndGlyphs">Wir entwickeln und realisieren interaktive Kommunikation. Vom ersten Einfall bis zur finalen</text><text x="11.5" y="119.5" textLength="135" lengthAdjust="spacingAndGlyphs">Anwendung. Dabei paaren wir Kreativitaet und Kommunikation mit sauberem Code mit</text><text x="11.5" y="125.5" textLength="99" lengthAdjust="spacingAndGlyphs">klugem Design und schlanken Webapplikationen, die nicht verstauben.</text></g><text x="184" y="147" font-family="Liberation Sans" font-size="3.2" textLength="12.5" lengthAdjust="spacingAndGlyphs" fill="#777">Impressum</text><rect x="200.2" y="144.2" width="3" height="3" fill="#333"/><path d="M206.5,147.3 L210,144.2 L208,147.3 Z" fill="#333"/><rect x="206.5" y="144.6" width="3.2" height="2.6" fill="#333"/><rect x="212.8" y="144.2" width="3.6" height="3" fill="#333"/><rect x="0" y="148.6" width="233.5" height="0.6" fill="#e6e6e6"/></g><path d="M335,720.5 L335.00,663.00 A57.5,57.5 0 0 1 344.22,663.74 Z" fill="#7eabf8" stroke="#fff" stroke-width="0.9"/><path d="M335,720.5 L344.22,663.74 A57.5,57.5 0 0 1 392.08,713.57 Z" fill="#fdc589" stroke="#fff" stroke-width="0.9"/><path d="M335,720.5 L392.08,713.57 A57.5,57.5 0 0 1 388.76,740.89 Z" fill="#b4e48d" stroke="#fff" stroke-width="0.9"/><path d="M335,720.5 L388.76,740.89 A57.5,57.5 0 1 1 325.78,663.74 Z" fill="#c397e6" stroke="#fff" stroke-width="0.9"/><path d="M335,720.5 L325.78,663.74 A57.5,57.5 0 0 1 335.00,663.00 Z" fill="#f5493c" stroke="#fff" stroke-width="0.9"/><text x="265.6" y="648.6" font-family="Liberation Sans" font-size="9.3" font-weight="bold" fill="#111">Requests</text><circle cx="423.7" cy="667" r="4.8" fill="#7eabf8"/><text x="431.59999999999997" y="670.7" font-family="Liberation Sans" font-size="9.3" fill="#222">html</text><circle cx="423.7" cy="682" r="4.8" fill="#fdc589"/><text x="431.59999999999997" y="685.7" font-family="Liberation Sans" font-size="9.3" fill="#222">js</text><circle cx="423.7" cy="697" r="4.8" fill="#b4e48d"/><text x="431.59999999999997" y="700.7" font-family="Liberation Sans" font-size="9.3" fill="#222">css</text><circle cx="423.7" cy="712" r="4.8" fill="#c397e6"/><text x="431.59999999999997" y="715.7" font-family="Liberation Sans" font-size="9.3" fill="#222">image</text><circle cx="423.7" cy="727" r="4.8" fill="#f5493c"/><text x="431.59999999999997" y="730.7" font-family="Liberation Sans" font-size="9.3" fill="#222">font</text><text x="347.4" y="698.5" font-family="Liberation Sans" font-size="9.3" fill="#fff">20.5%</text><text x="293.7" y="745.8" font-family="Liberation Sans" font-size="9.3" fill="#fff">66.7%</text><path d="M692,720.5 L692.00,663.00 A57.5,57.5 0 0 1 699.56,663.50 Z" fill="#7eabf8" stroke="#fff" stroke-width="0.9"/><path d="M692,720.5 L699.56,663.50 A57.5,57.5 0 0 1 733.92,681.14 Z" fill="#fdc589" stroke="#fff" stroke-width="0.9"/><path d="M692,720.5 L733.92,681.14 A57.5,57.5 0 0 1 747.60,705.85 Z" fill="#b4e48d" stroke="#fff" stroke-width="0.9"/><path d="M692,720.5 L747.60,705.85 A57.5,57.5 0 1 1 689.11,663.07 Z" fill="#c397e6" stroke="#fff" stroke-width="0.9"/><path d="M692,720.5 L689.11,663.07 A57.5,57.5 0 0 1 692.00,663.00 Z" fill="#f5493c" stroke="#fff" stroke-width="0.9"/><text x="622.6" y="648.6" font-family="Liberation Sans" font-size="9.3" font-weight="bold" fill="#111">Bytes</text><circle cx="780.7" cy="667" r="4.8" fill="#7eabf8"/><text x="788.6" y="670.7" font-family="Liberation Sans" font-size="9.3" fill="#222">html</text><circle cx="780.7" cy="682" r="4.8" fill="#fdc589"/><text x="788.6" y="685.7" font-family="Liberation Sans" font-size="9.3" fill="#222">js</text><circle cx="780.7" cy="697" r="4.8" fill="#b4e48d"/><text x="788.6" y="700.7" font-family="Liberation Sans" font-size="9.3" fill="#222">css</text><circle cx="780.7" cy="712" r="4.8" fill="#c397e6"/><text x="788.6" y="715.7" font-family="Liberation Sans" font-size="9.3" fill="#222">image</text><circle cx="780.7" cy="727" r="4.8" fill="#f5493c"/><text x="788.6" y="730.7" font-family="Liberation Sans" font-size="9.3" fill="#222">font</text><text x="657.3" y="754.0" font-family="Liberation Sans" font-size="9.3" fill="#fff">78.2%</text></svg>
</body></html>
